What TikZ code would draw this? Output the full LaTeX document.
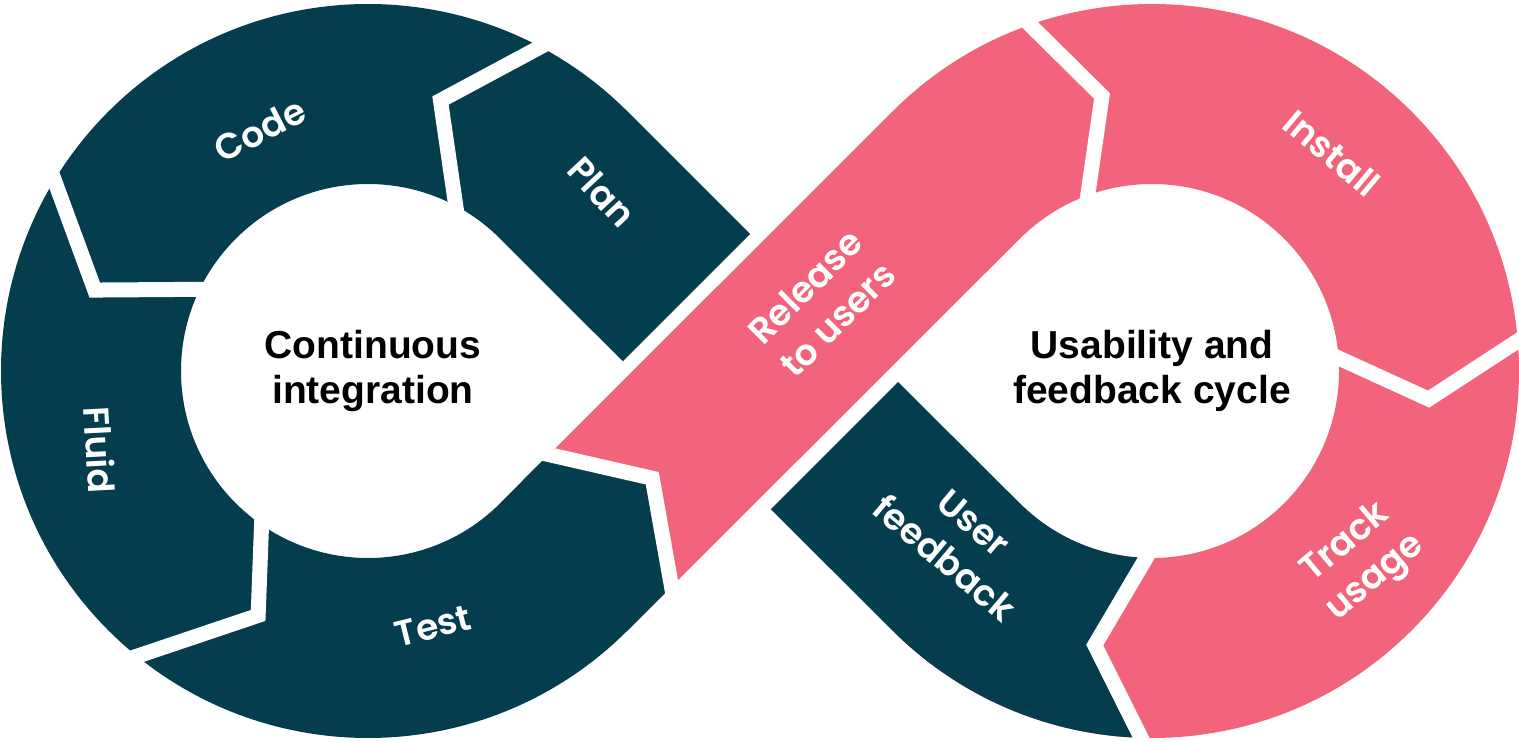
\documentclass[tikz,border=0pt]{standalone}
\usepackage{fontspec}
\newfontfamily\segfont{Poppins}[BoldFont=* SemiBold]
\newfontfamily\hubfont{Liberation Sans}
\usetikzlibrary{calc}
\definecolor{petrol}{RGB}{4,61,78}
\definecolor{rose}{RGB}{242,99,124}

\begin{document}
\begin{tikzpicture}[x=1pt,y=1pt,
  seg label/.style={text=white,align=center,font=\segfont\bfseries\fontsize{36}{46}\selectfont},
  hub label/.style={text=black,align=center,font=\hubfont\bfseries\fontsize{39}{45}\selectfont},
  gap/.style={draw=white,line width=15pt,line join=miter,line cap=rect}]

  \useasboundingbox (0,0) rectangle (1519,742);
  \coordinate (L) at (368,371);
  \coordinate (R) at (1152,371);

  \fill[rose] ($(L)+(-45:187)$) -- ($(L)+(-45:367)$) -- ($(R)+(135:187)$)
    arc[start angle=135,end angle=-135,radius=187] -- ($(R)+(225:367)$)
    arc[start angle=225,end angle=495,radius=367] -- cycle;
  \fill[petrol] (750,508) -- ($(L)+(45:367)$) arc[start angle=45,end angle=315,radius=367]
    -- (671.5,155.5) -- (652.25,263.75) -- (548.5,287.5) -- ($(L)+(-45:187)$)
    arc[start angle=315,end angle=45,radius=187] -- (622.75,380.75) -- cycle;
  \fill[petrol] (898,360) -- (770.75,232.75) -- ($(R)+(225:367)$)
    arc[start angle=225,end angle=268.3,radius=367] -- ($(R)+(258.2:280)$)
    -- ($(R)+(268.2:187)$) arc[start angle=268.2,end angle=225,radius=187] -- cycle;

  \draw[gap] ($(L)+(62:367)$) -- ($(L)+(75:280)$) -- ($(L)+(62:187)$);
  \draw[gap] ($(L)+(148.7:367)$) -- ($(L)+(163.5:285)$) -- ($(L)+(154.1:187)$);
  \draw[gap] ($(L)+(231:367)$) -- ($(L)+(245.8:268)$) -- ($(L)+(235.3:187)$);
  \draw[gap] (671.5,155.5) -- (652.25,263.75) -- (548.5,287.5);
  \draw[gap] ($(R)+(109.4:367)$) -- ($(R)+(100.3:279.5)$) -- ($(R)+(110.1:187)$);
  \draw[gap] ($(R)+(4.7:367)$) -- ($(R)+(-5.8:278)$) -- ($(R)+(4:187)$);
  \draw[gap] ($(R)+(268.3:367)$) -- ($(R)+(258.2:280)$) -- ($(R)+(268.2:187)$);

  \node[seg label,rotate=27] (1) at (260,612) {Code};
  \node[seg label,rotate=-47] (2) at (602,550) {Plan};
  \node[seg label,rotate=-87] (3) at (100,292) {Fluid};
  \node[seg label,rotate=14] (4) at (433,116) {Test};
  \node[seg label,rotate=45] (5) at (821,439) {Release\\to users};
  \node[seg label,rotate=-40] (6) at (1332,589) {Install};
  \node[seg label,rotate=40] (7) at (1361,181) {Track\\usage};
  \node[seg label,rotate=-40] (8) at (959,201) {User\\feedback};
  \node[hub label] (c1) at (373,371) {Continuous\\integration};
  \node[hub label] (c2) at (1152,371) {Usability and\\feedback cycle};
\end{tikzpicture}
\end{document}
